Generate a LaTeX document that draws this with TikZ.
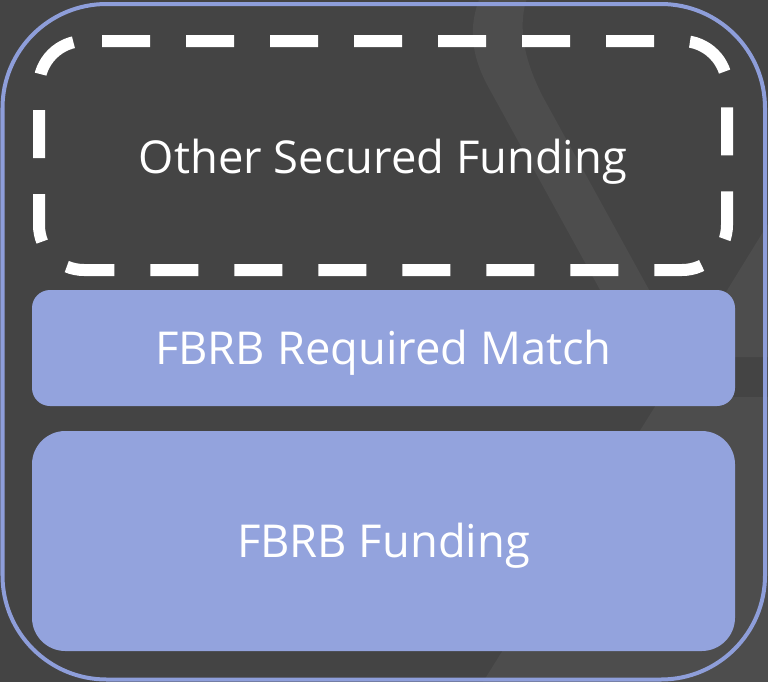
\documentclass[tikz,border=0pt]{standalone}
\usepackage{fontspec}
\setmainfont{Open Sans}
\definecolor{bgdark}{HTML}{444444}
\definecolor{bglight}{HTML}{4D4D4D}
\definecolor{peri}{HTML}{93A3DD}
\definecolor{periline}{HTML}{8E9EDA}
\tikzset{
  lbl/.style={text=white, font=\fontsize{34}{40}\selectfont, text height=25.1pt, text depth=0pt},
  fillbox/.style={fill=peri, draw=none, inner sep=0pt, outer sep=0pt, minimum width=527.25pt},
  dashbox/.style={draw=white, line width=9pt, dash pattern=on 36pt off 27pt, rounded corners=33.75pt},
}
\begin{document}
\begin{tikzpicture}[x=0.75pt,y=-0.75pt]
\useasboundingbox (0,0) rectangle (768,682);
\fill[bgdark] (0,0) rectangle (768,682);
% faint background shapes
\fill[bglight] (481,-5) .. controls (468,25) and (470,55) .. (490,90) -- (637,357) -- (686,357) -- (543,97) .. controls (528,68) and (515,30) .. (528,-5) -- cycle;
\fill[bglight] (686,357) -- (800,172) -- (800,357) -- cycle;
\fill[bglight] (661,397) -- (800,397) -- (800,690) -- (478,690) -- cycle;
% outer frame
\draw[periline, line width=3pt, rounded corners=78pt] (2.5,4) rectangle (765,679.5);
% dashed box
\draw[dashbox] (102,41) -- (727,41) -- (727,270) -- (39,270) -- (39,41) -- (102,41);
\node[lbl] (osf) at (383,157) {Other Secured Funding};
% filled boxes
\node[fillbox, minimum height=87pt, rounded corners=13.5pt, lbl] (match) at (383.5,348) {FBRB Required Match};
\node[fillbox, minimum height=165pt, rounded corners=25pt, lbl] (fund) at (383.5,541) {FBRB Funding};
\end{tikzpicture}
\end{document}
